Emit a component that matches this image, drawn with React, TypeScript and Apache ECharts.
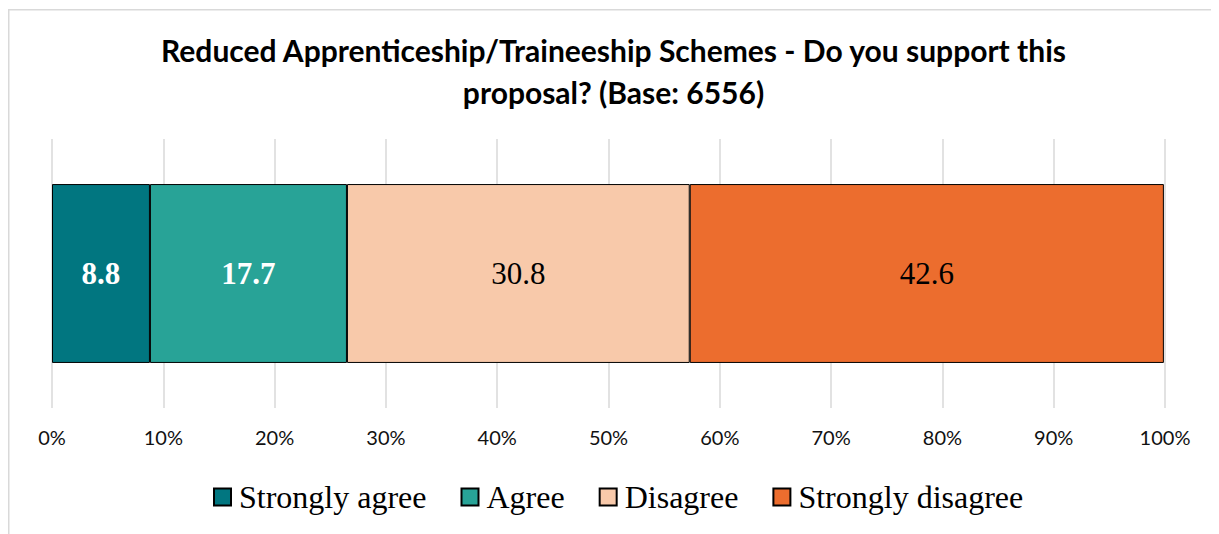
import React, { useEffect, useRef } from "react";
import * as echarts from "echarts";

const categories = ["Reduced Apprenticeship/Traineeship Schemes"];
const seriesNames = ["Strongly agree", "Agree", "Disagree", "Strongly disagree"];
const seriesValues = [8.8, 17.7, 30.8, 42.6];
const seriesColors = ["#017680", "#28A397", "#F8C9AA", "#EC6D2E"];
const labelColors = ["#ffffff", "#ffffff", "#000000", "#000000"];
const labelWeights = ["bold", "bold", "normal", "normal"];
const titleText = "Reduced Apprenticeship/Traineeship Schemes - Do you support this\nproposal? (Base: 6556)";

export default function App() {
  const ref = useRef<HTMLDivElement>(null);
  useEffect(() => {
    if (!ref.current) return;
    const chart = echarts.init(ref.current, undefined, { renderer: "svg" });
    chart.setOption({
      animation: false,
      backgroundColor: "#ffffff",
      title: {
        text: titleText,
        left: "center",
        top: 21,
        padding: 0,
        textStyle: {
          fontFamily: "Lato",
          fontWeight: "bold",
          fontSize: 30,
          lineHeight: 42,
          color: "#000000",
        },
      },
      graphic: [
        {
          type: "rect",
          shape: { x: 0.75, y: 1.75, width: 3000, height: 3000 },
          style: { fill: "none", stroke: "#d9d9d9", lineWidth: 1.5 },
          silent: true,
          z: -1,
        },
      ],
      legend: {
        left: 200,
        top: 468,
        itemWidth: 17,
        itemHeight: 17,
        itemGap: 34,
        icon: "rect",
        textStyle: {
          fontFamily: "Liberation Serif",
          fontSize: 32,
          color: "#000000",
          padding: [0, 0, 0, 3],
        },
        data: seriesNames,
      },
      grid: { left: 44, width: 1113, top: 131, height: 269 },
      xAxis: {
        type: "value",
        min: 0,
        max: 100,
        interval: 10,
        axisLine: { show: false },
        axisTick: { show: false },
        splitLine: { lineStyle: { color: "#d9d9d9", width: 1.5 } },
        axisLabel: {
          formatter: "{value}%",
          fontFamily: "Lato",
          fontSize: 20,
          color: "#111111",
          margin: 19,
        },
      },
      yAxis: {
        type: "category",
        data: categories,
        show: false,
      },
      series: seriesNames.map((name, i) => ({
        name,
        type: "bar",
        stack: "total",
        barWidth: "66.5%",
        data: [seriesValues[i]],
        itemStyle: {
          color: seriesColors[i],
          borderColor: "#000000",
          borderWidth: 1,
        },
        label: {
          show: true,
          position: "inside",
          formatter: (p: any) => p.value.toFixed(1),
          fontFamily: "Liberation Serif",
          fontSize: 31,
          fontWeight: labelWeights[i],
          color: labelColors[i],
        },
      })),
    });
    return () => chart.dispose();
  }, []);
  return <div ref={ref} style={{ width: 1211, height: 526 }} />;
}
